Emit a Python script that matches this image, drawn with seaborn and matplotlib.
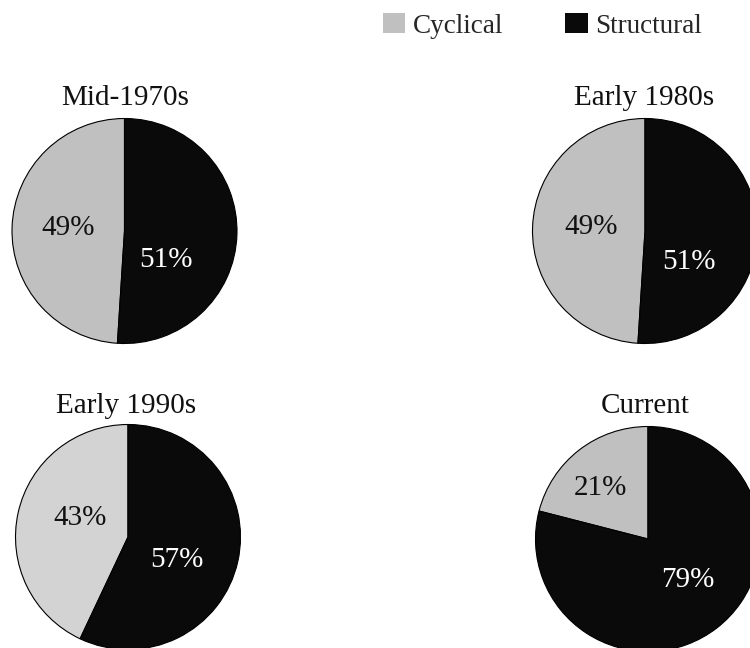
import matplotlib
matplotlib.use("Agg")
import matplotlib.pyplot as plt
from matplotlib.patches import Patch
import seaborn as sns

# Share of unemployment by type, per period
periods = ["Mid-1970s", "Early 1980s", "Early 1990s", "Current"]
cyclical = [49, 49, 43, 21]
structural = [51, 51, 57, 79]
series_names = ["Cyclical", "Structural"]

sns.set_theme(style="white")
plt.rcParams["font.family"] = ["Liberation Serif", "DejaVu Serif"]

W, H = 750, 648
fig = plt.figure(figsize=(W / 100, H / 100), dpi=100)
ax = fig.add_axes([0, 0, 1, 1])

# layout in pixels from the top-left corner
centers = [(124.5, 231), (645, 231), (128, 537), (648, 539)]
radius = 112.5
title_baseline = [105, 105, 413, 413]
title_x = [125.5, 644, 126, 645]
grey_shades = ["#c0c0c0", "#c0c0c0", "#d3d3d3", "#c0c0c0"]
black = "#0a0a0a"
# label offsets from the pie centre (dx, dy downwards)
cyc_off = [(-56, -3), (-54, -4), (-48, -19), (-48, -51)]
str_off = [(41, 29), (44, 31), (49, 23), (40, 41)]

for i, name in enumerate(periods):
    cx, cy = centers[i]
    cyd = H - cy
    vals = [cyclical[i], structural[i]]
    ax.pie(vals, colors=[grey_shades[i], black], startangle=90,
           counterclock=True, center=(cx, cyd), radius=radius,
           wedgeprops=dict(edgecolor="black", linewidth=0.8),
           normalize=True, frame=True)
    ax.text(cx + cyc_off[i][0], cyd - cyc_off[i][1], f"{cyclical[i]}%",
            ha="center", va="center", fontsize=21, color="#111111")
    ax.text(cx + str_off[i][0], cyd - str_off[i][1], f"{structural[i]}%",
            ha="center", va="center", fontsize=21, color="white")
    ax.text(title_x[i], H - title_baseline[i], name, ha="center",
            va="baseline", fontsize=21, color="#111111")

ax.set_xlim(0, W)
ax.set_ylim(0, H)
ax.set_aspect("equal")
ax.axis("off")

handles = [Patch(facecolor="#c0c0c0", edgecolor="none"),
           Patch(facecolor=black, edgecolor="none")]
fig.legend(handles, series_names, loc="center left",
           bbox_to_anchor=(383 / W, 1 - 26 / H), ncol=2, frameon=False,
           fontsize=19.5, handlelength=0.83, handleheight=0.72,
           handletextpad=0.27, columnspacing=2.3, borderpad=0,
           borderaxespad=0)

fig.savefig("out.png", dpi=100)
